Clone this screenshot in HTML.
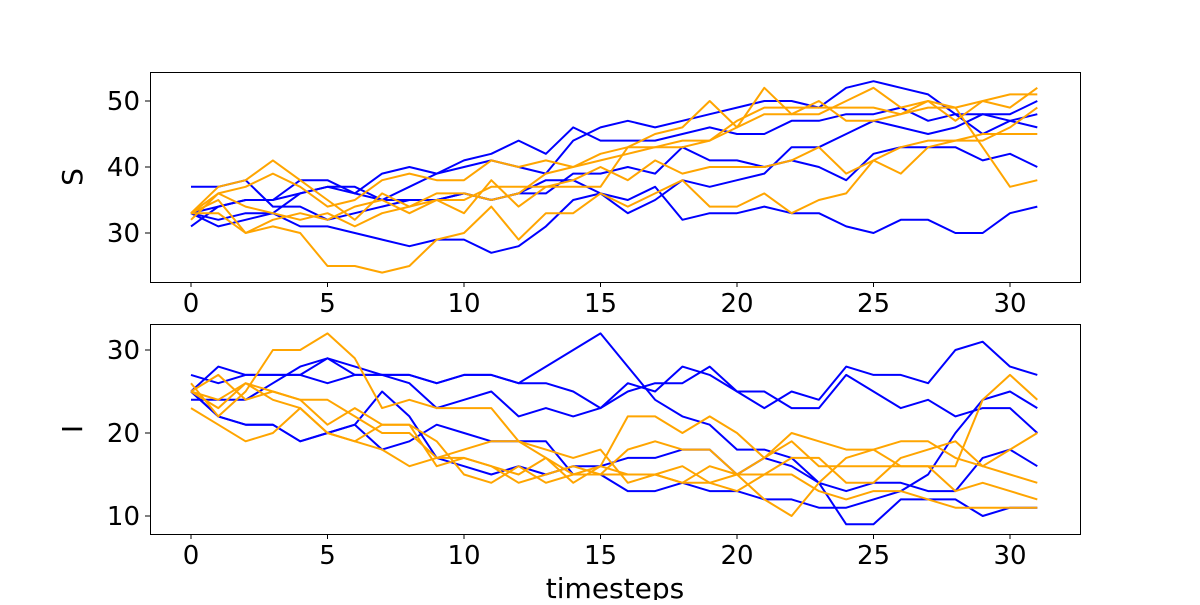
<!DOCTYPE html>
<html><head><meta charset="utf-8"><style>
body{margin:0;background:#fff}
svg text{font-family:"DejaVu Sans","Liberation Sans",sans-serif;fill:#000}
</style></head><body>
<svg id="c" width="1200" height="600" xmlns="http://www.w3.org/2000/svg"></svg>
<script>
const timesteps = Array.from({length:32},(_,i)=>i);
const sBlue = [
 [37,37,38,34,34,32,33,34,35,35,36,35,36,36,39,39,40,39,43,41,41,40,41,40,38,42,43,43,43,41,42,40],
 [31,34,35,35,38,38,36,39,40,39,41,42,44,42,46,44,44,44,45,46,45,45,47,47,48,48,49,47,48,48,48,50],
 [33,34,35,35,36,37,37,35,37,39,40,41,40,39,44,46,47,46,47,48,49,50,50,49,52,53,52,51,48,45,47,48],
 [33,31,32,33,31,31,30,29,28,29,29,27,28,31,35,36,33,35,38,37,38,39,43,43,45,47,46,45,46,48,47,46],
 [33,32,33,33,36,37,36,35,35,35,36,35,36,38,38,36,35,37,32,33,33,34,33,33,31,30,32,32,30,30,33,34]
];
const sOrange = [
 [33,37,38,41,38,35,32,36,34,35,33,38,34,37,37,37,43,43,43,44,47,49,49,49,49,49,48,49,49,43,37,38],
 [33,36,34,33,32,33,31,33,34,36,36,35,36,39,40,42,43,45,46,50,46,52,48,50,47,47,48,50,47,50,49,52],
 [33,33,30,31,30,25,25,24,25,29,30,34,29,33,33,36,34,36,38,34,34,36,33,35,36,41,39,43,44,44,46,49],
 [33,35,30,32,33,32,34,35,33,35,35,37,37,37,38,40,38,41,39,40,40,40,41,43,39,41,43,44,44,45,45,45],
 [32,36,37,39,37,34,35,38,39,38,38,41,40,41,40,41,42,43,44,44,46,48,48,48,50,52,49,50,49,50,51,51]
];
const iBlue = [
 [25,28,27,27,27,29,28,27,27,26,27,27,26,28,30,32,28,24,22,21,18,18,17,14,13,14,14,13,13,17,18,16],
 [27,26,27,27,27,26,27,27,27,26,27,27,26,26,25,23,26,25,28,27,25,23,25,24,28,27,27,26,30,31,28,27],
 [25,22,21,21,19,20,21,25,22,17,16,15,16,15,16,16,17,17,18,18,15,17,16,14,9,9,12,12,12,10,11,11],
 [24,24,24,26,28,29,27,27,26,23,24,25,22,23,22,23,25,26,26,28,25,25,23,23,27,25,23,24,22,23,23,20],
 [25,22,21,21,19,20,21,18,19,21,20,19,19,19,15,15,13,13,14,13,13,12,12,11,11,12,13,15,20,24,25,23]
];
const iOrange = [
 [26,22,25,30,30,32,29,23,24,23,23,23,19,17,15,16,22,22,20,22,20,17,20,19,18,18,16,16,16,24,27,24],
 [25,27,24,25,24,21,23,21,21,19,15,14,16,14,15,15,18,19,18,18,15,12,10,14,17,18,19,19,17,16,15,14],
 [23,21,19,20,23,20,19,18,16,17,18,19,19,18,17,18,14,15,16,14,15,17,19,16,16,16,16,16,13,14,13,12],
 [25,23,26,25,24,24,22,20,20,17,17,16,15,17,14,16,15,15,14,16,15,15,17,17,14,14,17,18,19,16,18,20],
 [25,24,26,24,23,20,19,21,21,16,17,16,14,15,16,15,15,15,14,14,13,15,15,13,12,13,13,12,11,11,11,11]
];
const xTicks = [0,5,10,15,20,25,30];
const sTicks = [30,40,50];
const iTicks = [10,20,30];

const NS="http://www.w3.org/2000/svg";
const svg=document.getElementById('c');
function mk(t,a,p){const e=document.createElementNS(NS,t);for(const k in a)e.setAttribute(k,a[k]);(p||svg).appendChild(e);return e;}
const xs=t=>191+27.3*t;
const ysS=v=>101+(50-v)*6.6;
const ysI=v=>350+(30-v)*8.3;

function panel(top,ys,ticks,blue,orange,label,name){
  const g=mk('g',{});
  
  
  const draw=(arr,col,nm)=>arr.forEach((s,k)=>{
    const p=mk('polyline',{points:s.map((v,i)=>xs(timesteps[i])+','+ys(v)).join(' '),fill:'none',stroke:col,'stroke-width':2,'stroke-linejoin':'round'},g);
    
    
  });
  draw(blue,'#0000ff','blue-series');
  draw(orange,'#ffa500','orange-series');
  const f=mk('rect',{x:150.5,y:top+0.5,width:930,height:210,fill:'none',stroke:'#000','stroke-width':1},g);
  
  
  xTicks.forEach(t=>{
    mk('line',{x1:xs(t),x2:xs(t),y1:top+210,y2:top+215,stroke:'#000'},g);
    const tx=mk('text',{x:xs(t),y:top+240,'font-size':26,'text-anchor':'middle'},g);
    tx.textContent=t;
    
    
  });
  ticks.forEach(v=>{
    mk('line',{x1:145,x2:150,y1:ys(v),y2:ys(v),stroke:'#000'},g);
    const tx=mk('text',{x:140,y:ys(v)+9,'font-size':26,'text-anchor':'end'},g);
    tx.textContent=v;
    
    
  });
  const yl=mk('text',{x:0,y:0,'font-size':28,'text-anchor':'middle',transform:`translate(82,${top+105}) rotate(-90)`},g);
  yl.textContent=label;
  
  
}
panel(72,ysS,sTicks,sBlue,sOrange,'S','s-panel');
panel(324,ysI,iTicks,iBlue,iOrange,'I','i-panel');
const xl=mk('text',{x:615,y:598,'font-size':28,'text-anchor':'middle'});
xl.textContent='timesteps';


</script>
</body></html>
